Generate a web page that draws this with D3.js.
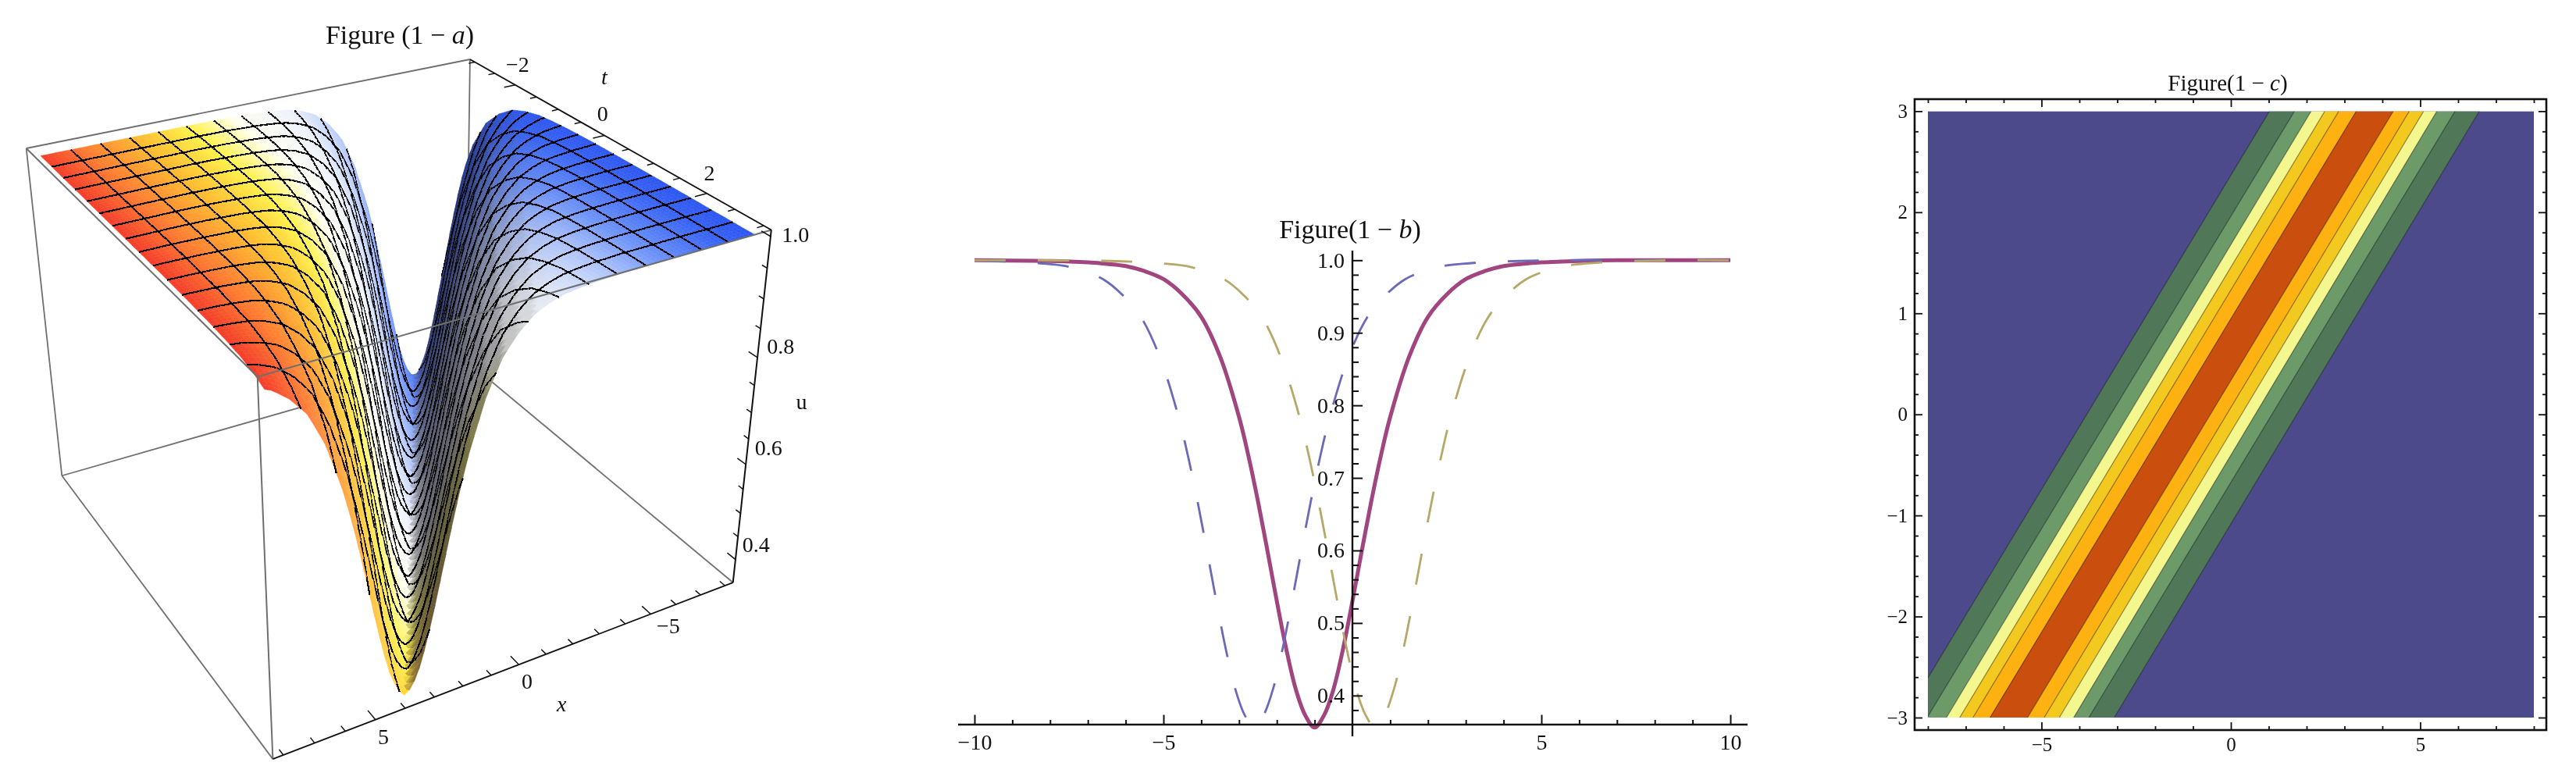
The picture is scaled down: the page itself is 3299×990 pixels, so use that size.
<!DOCTYPE html>
<html><head><meta charset="utf-8">
<script src="https://cdn.jsdelivr.net/npm/d3@7"></script>
<style>html,body{margin:0;background:#fff}svg{display:block;filter:blur(.5px)}text{font-family:"Liberation Serif",serif;fill:#111}</style>
</head><body><svg id="c" width="3299" height="990"></svg>
<script>
// ---- Panel b data
const xBlue=[-10,-9.6,-8.6,-8.1,-7.6,-7.1,-6.6,-6.1,-5.6,-5.1,-4.6,-4.35,-4.1,-3.85,-3.6,-3.35,-3.1,-2.85,-2.6,-2.35,-2.1,-1.85,-1.6,-1.35,-1.1,-.85,-.6,-.1,.4,.9,1.4,1.9,2.4,2.9,3.4,4.4,5.4,10];
const uBlue=[1,.999,.997,.995,.992,.985,.974,.953,.922,.867,.784,.730,.668,.600,.530,.464,.409,.373,.356,.373,.409,.464,.530,.600,.668,.730,.784,.867,.922,.953,.974,.985,.992,.995,.997,.999,1,1];
const xGold=[-10,-6.4,-5.4,-4.9,-4.4,-3.9,-3.4,-2.9,-2.4,-1.9,-1.4,-1.15,-.9,-.65,-.4,-.15,.1,.35,.6,.85,1.1,1.35,1.6,1.85,2.1,2.35,2.6,3.1,3.6,4.1,4.6,5.1,5.6,6.1,6.6,7.6,8.6,10];
const uGold=[1,.999,.997,.995,.992,.985,.974,.953,.922,.867,.784,.730,.668,.600,.530,.464,.409,.373,.356,.373,.409,.464,.530,.600,.668,.730,.784,.867,.922,.953,.974,.985,.992,.995,.997,.999,1,1];
const xPurple=[-10,-8,-7,-6.5,-6,-5.5,-5,-4.5,-4,-3.5,-3,-2.75,-2.5,-2.25,-2,-1.75,-1.5,-1.25,-1,-.75,-.5,-.25,0,.25,.5,.75,1,1.5,2,2.5,3,3.5,4,4.5,5,6,7,10];
const uPurple=[1,.999,.997,.995,.992,.985,.974,.953,.922,.867,.784,.730,.668,.600,.530,.464,.409,.373,.356,.373,.409,.464,.530,.600,.668,.730,.784,.867,.922,.953,.974,.985,.992,.995,.997,.999,1,1];
const xTicksB=[-10,-5,5,10], yTicksB=[.4,.5,.6,.7,.8,.9,1];
// ---- Panel c data: band edges (x) along t=-3 and t=3
const edgesBottom=[-8.63,-8.02,-7.51,-7.16,-6.81,-6.36,-5.37,-4.93,-4.53,-4.15,-3.75,-3.08];
const edgesTop=[1.02,1.68,2.12,2.48,2.85,3.31,4.29,4.71,5.09,5.44,5.92,6.56];
const bandColors=["#507858","#6c9a68","#f4f68e","#f3c81f","#fdb212","#ca4e0e","#fdb212","#f3c81f","#f4f68e","#6c9a68","#507858"];
const bgColor="#4c4a8a";
// ---- Panel a data
const xTicksA=[-5,0,5], tTicksA=[-2,0,2], uTicksA=[.4,.6,.8,1];
const waveSpeed=[1.6];
const colorStops=[0,.1,.22,.34,.46,.58,.68,.78,.9,1];
const colorRamp=["#2850f0","#3a66f5","#6a90f8","#b4c9fb","#eef2fb","#fffff0","#fff14a","#ffc030","#ff7a30","#f02c28"];

const svg=d3.select("#c");
const axisFont=28;
function title(cx,cy,pre,it,size){
  const t=svg.append("text").attr("x",cx).attr("y",cy).attr("text-anchor","middle").attr("font-size",size);
  t.append("tspan").text(pre);
  t.append("tspan").attr("font-style","italic").text(it);
  t.append("tspan").text(")");
}
// ================= Panel a
(function(){
  const Zx=1/1.4254, Zy=1/1.579;
  const sq=(p)=>{
    const [[x0,y0],[x1,y1],[x2,y2],[x3,y3]]=p;
    const dx1=x1-x2,dx2=x3-x2,sx=x0-x1+x2-x3,dy1=y1-y2,dy2=y3-y2,sy=y0-y1+y2-y3;
    const den=dx1*dy2-dx2*dy1,g=(sx*dy2-dx2*sy)/den,h=(dx1*sy-sx*dy1)/den;
    const A=x1-x0+g*x1,B=x3-x0+h*x3,D=y1-y0+g*y1,E=y3-y0+h*y3;
    return (u,v)=>{const w=g*u+h*v+1;return [(A*u+B*v+x0)/w,(D*u+E*v+y0)/w];};
  };
  const c=(a)=>a.map(q=>[q[0]*Zx,q[1]*Zy]);
  const top=sq(c([[858,120],[48,300],[470,762],[1408,465]]));
  const bot=sq(c([[850,728],[113,962],[498,1535],[1338,1178]]));
  const ax=d3.scaleLinear([-8,8],[.02,.98]), bx=d3.scaleLinear([-3,3],[.02,.98]), cx=d3.scaleLinear([.356,1],[.012,.985]);
  const R=1.22;
  const proj=(x,t,u)=>{
    const a=ax(x),b=bx(t),k=cx(u),f=k/(k+R*(1-k));
    const p=top(a,b),q=bot(a,b);return [q[0]+(p[0]-q[0])*f,q[1]+(p[1]-q[1])*f];
  };
  const pb=(a,b,k)=>{const f=k/(k+R*(1-k));const p=top(a,b),q=bot(a,b);return [q[0]+(p[0]-q[0])*f,q[1]+(p[1]-q[1])*f];};
  const grey="#707070";
  const edge=(p,q,col,w,g)=>g.append("line").attr("x1",p[0]).attr("y1",p[1]).attr("x2",q[0]).attr("y2",q[1]).attr("stroke",col).attr("stroke-width",w);
  const g0=svg.append("g");
  [[[1,0,1],[0,0,1]],[[0,0,1],[0,0,0]],[[1,0,1],[1,0,0]],[[1,0,0],[0,0,0]],[[1,0,0],[1,1,0]],[[0,0,0],[0,1,0]]].forEach(e=>edge(pb(...e[0]),pb(...e[1]),grey,1.8,g0));
  const prof=d3.scaleLinear(xPurple,uPurple).clamp(true);
  const surf=(x,t)=>prof(x-waveSpeed[0]*t);
  const sub=6,cells=16,nx=cells*sub,nt=cells*sub;
  const col=d3.scaleLinear(colorStops,colorRamp).interpolate(d3.interpolateRgb).clamp(true);
  const gs=svg.append("g");
  const xv=i=>-8+16*i/nx,tv=j=>-3+6*j/nt;
  const frag=[];
  for(let j=0;j<nt;j++)for(let i=0;i<nx;i++){
    const x0=xv(i),x1=xv(i+1),t0=tv(j),t1=tv(j+1);
    const P=[[x0,t0],[x1,t0],[x1,t1],[x0,t1]].map(q=>proj(q[0],q[1],surf(q[0],q[1])));
    const xm=(x0+x1)/2,tm=(t0+t1)/2;
    const slope=(surf(x1,tm)-surf(x0,tm))/(x1-x0)/0.64*16*.62;
    const nz=1/Math.sqrt(1+slope*slope);
    let c2;
    if(slope<0){ c2=d3.interpolateRgb(d3.rgb(col(ax(xm)+.1*(1-nz))),"#14142a")(0.86*(1-nz)); }
    else { c2=d3.interpolateRgb(d3.rgb(col(ax(xm))),"#ffffff")(0.14*(1-nz)); }
    const d="M"+P.map(p=>p[0].toFixed(1)+","+p[1].toFixed(1)).join("L")+"Z";
    frag.push(`<path d="${d}" fill="${c2}" stroke="${c2}" stroke-width=".5"/>`);
    let m="";
    if(i%sub===0&&i>0) m+="M"+P[0].map(v=>v.toFixed(1))+"L"+P[3].map(v=>v.toFixed(1));
    if(j%sub===0&&j>0) m+="M"+P[0].map(v=>v.toFixed(1))+"L"+P[1].map(v=>v.toFixed(1));
    if(m) frag.push(`<path d="${m}" fill="none" stroke="#000" stroke-width="2.2" shape-rendering="crispEdges"/>`);
  }
  gs.node().innerHTML=frag.join("");
  const g1=svg.append("g");
  [[[1,0,1],[1,1,1]],[[1,1,1],[0,1,1]],[[1,1,1],[1,1,0]]].forEach(e=>edge(pb(...e[0]),pb(...e[1]),grey,2,g1));
  const blk="#111";
  edge(pb(0,1,1),pb(0,0,1),blk,1.8,g1);
  edge(pb(1,1,0),pb(0,1,0),blk,1.8,g1);
  edge(pb(0,1,0),pb(0,1,1),blk,2,g1);
  d3.range(-8,9).forEach(x=>{const M=x%5===0;const p=pb(ax(x),1,0),q=pb(ax(x),1-(M?.028:.016),0);edge(p,q,blk,1.5,g1);});
  d3.range(-3,3.01,.5).forEach(t=>{const M=t%2===0;const p=pb(0,bx(t),1),q=pb(M?.028:.016,bx(t),1);edge(p,q,blk,1.5,g1);});
  d3.range(.4,1.001,.05).forEach(u=>{const M=Math.abs(u*5-Math.round(u*5))<1e-6;const k=cx(u);const p=pb(0,1,k),q=pb(0,1-(M?.025:.014),k);edge(p,q,blk,1.5,g1);});
  const lab=(x,y,s,it)=>svg.append("text").attr("x",x*Zx).attr("y",y*Zy).attr("text-anchor","middle").attr("dominant-baseline","middle").attr("font-size",axisFont).attr("font-style",it?"italic":"normal").text(s);
  const f=d3.format("");
  [[5,700,1495],[0,962,1382],[-5,1220,1270]].forEach((d,i)=>lab(d[1],d[2],f(xTicksA[2-i])));
  [[945,135],[1100,235],[1295,355]].forEach((d,i)=>lab(d[0],d[1],f(tTicksA[i])));
  [[1380,1107],[1403,910],[1425,705],[1452,480]].forEach((d,i)=>lab(d[0],d[1],d3.format(".1f")(uTicksA[i])));
  lab(1025,1428,"x",1);lab(1103,160,"t",1);lab(1463,817,"u",0);
  title(512,56,"Figure (1 − ","a",34);
})();
// ================= Panel b
(function(){
  const x=d3.scaleLinear([-10,10],[1248,2216]), y=d3.scaleLinear([.36,1],[928,333.3]);
  const line=(xs,us)=>d3.line().x(i=>x(xs[i])).y(i=>y(us[i])).curve(d3.curveCatmullRom)(d3.range(xs.length));
  svg.append("clipPath").attr("id","cb").append("rect").attr("x",1200).attr("y",310).attr("width",1040).attr("height",626);
  const g=svg.append("g").attr("clip-path","url(#cb)");
  g.append("path").attr("d",line(xPurple,uPurple)).attr("fill","none").attr("stroke","#a0457f").attr("stroke-width",5);
  g.append("path").attr("d",line(xBlue,uBlue)).attr("fill","none").attr("stroke","#6a6ab8").attr("stroke-width",2.8).attr("stroke-dasharray","40,41");
  g.append("path").attr("d",line(xGold,uGold)).attr("fill","none").attr("stroke","#b5a868").attr("stroke-width",2.8).attr("stroke-dasharray","40,41");
  const ax=svg.append("g");
  ax.append("line").attr("x1",1227).attr("x2",2238).attr("y1",y(.36)).attr("y2",y(.36)).attr("stroke","#111").attr("stroke-width",2.4);
  ax.append("line").attr("x1",x(0)).attr("x2",x(0)).attr("y1",321).attr("y2",943).attr("stroke","#111").attr("stroke-width",2.4);
  const clean=s=>s.select(".domain").remove();
  const gx=ax.append("g").attr("transform",`translate(0,${y(.36)})`);
  gx.append("g").call(d3.axisTop(x).tickValues(d3.range(-10,11).filter(v=>v&&v%5)).tickSize(6).tickFormat("")).call(clean);
  gx.append("g").call(d3.axisTop(x).tickValues(xTicksB).tickSize(12.5).tickFormat("")).call(clean);
  gx.append("g").call(d3.axisBottom(x).tickValues(xTicksB).tickSize(0).tickPadding(12)).call(clean).selectAll("text").attr("font-size",axisFont).attr("font-family","Liberation Serif");
  const gy=ax.append("g").attr("transform",`translate(${x(0)},0)`);
  gy.append("g").call(d3.axisRight(y).tickValues(d3.range(19,51).map(v=>v/50).filter(v=>Math.round(v*50)%5)).tickSize(8).tickFormat("")).call(clean);
  gy.append("g").call(d3.axisRight(y).tickValues(yTicksB).tickSize(13).tickFormat("")).call(clean);
  gy.append("g").call(d3.axisLeft(y).tickValues(yTicksB).tickSize(0).tickPadding(10).tickFormat(d3.format(".1f"))).call(clean).selectAll("text").attr("font-size",axisFont).attr("font-family","Liberation Serif");
  ax.selectAll(".tick line").attr("stroke","#111").attr("stroke-width",2);
  title(1729,305,"Figure(1 − ","b",34);
})();
// ================= Panel c
(function(){
  const x=d3.scaleLinear([-8,8],[2469,3245]), y=d3.scaleLinear([-3,3],[919,142.4]);
  const F={l:2452,r:3261,t:127,b:935};
  svg.append("clipPath").attr("id","cc").append("rect").attr("x",x(-8)).attr("y",y(3)).attr("width",x(8)-x(-8)).attr("height",y(-3)-y(3));
  const g=svg.append("g").attr("clip-path","url(#cc)");
  g.append("rect").attr("x",x(-8)).attr("y",y(3)).attr("width",x(8)-x(-8)).attr("height",y(-3)-y(3)).attr("fill",bgColor);
  bandColors.forEach((c,i)=>{
    const pts=[[edgesBottom[i],-3],[edgesBottom[i+1],-3],[edgesTop[i+1],3],[edgesTop[i],3]];
    g.append("path").attr("d",d3.line().x(d=>x(d[0])).y(d=>y(d[1]))(pts)+"Z").attr("fill",c);
  });
  edgesTop.forEach((e,i)=>g.append("line").attr("x1",x(edgesBottom[i])).attr("y1",y(-3)).attr("x2",x(e)).attr("y2",y(3)).attr("stroke","#000").attr("stroke-opacity",.3).attr("stroke-width",1.4));
  svg.append("rect").attr("x",F.l).attr("y",F.t).attr("width",F.r-F.l).attr("height",F.b-F.t).attr("fill","none").attr("stroke","#111").attr("stroke-width",2.6);
  const clean=s=>s.select(".domain").remove();
  const minX=d3.range(-8,9).filter(v=>v%5), majX=[-5,0,5];
  const minY=d3.range(-15,16).map(v=>v/5).filter(v=>Math.round(v*5)%5), majY=[-3,-2,-1,0,1,2,3];
  const a=svg.append("g");
  const wrap=(tr,ax,vals,sz)=>a.append("g").attr("transform",tr).call(ax.tickValues(vals).tickSize(sz).tickFormat("")).call(clean);
  wrap(`translate(0,${F.b})`,d3.axisTop(x),minX,5);
  wrap(`translate(0,${F.b})`,d3.axisTop(x),majX,10);
  wrap(`translate(0,${F.t})`,d3.axisBottom(x),minX,5);
  wrap(`translate(0,${F.t})`,d3.axisBottom(x),majX,10);
  wrap(`translate(${F.l},0)`,d3.axisRight(y),minY,5);
  wrap(`translate(${F.l},0)`,d3.axisRight(y),majY,10);
  wrap(`translate(${F.r},0)`,d3.axisLeft(y),minY,5);
  wrap(`translate(${F.r},0)`,d3.axisLeft(y),majY,10);
  a.selectAll(".tick line").attr("stroke","#111").attr("stroke-width",1.8);
  a.append("g").attr("transform",`translate(0,${F.b})`).call(d3.axisBottom(x).tickValues(majX).tickSize(0).tickPadding(9)).call(clean).selectAll("text").attr("font-size",25).attr("font-family","Liberation Serif");
  a.append("g").attr("transform",`translate(${F.l},0)`).call(d3.axisLeft(y).tickValues(majY).tickSize(0).tickPadding(9).tickFormat(d3.format("d"))).call(clean).selectAll("text").attr("font-size",25).attr("font-family","Liberation Serif");
  title(2853,116,"Figure(1 − ","c",29);
})();
</script></body></html>
